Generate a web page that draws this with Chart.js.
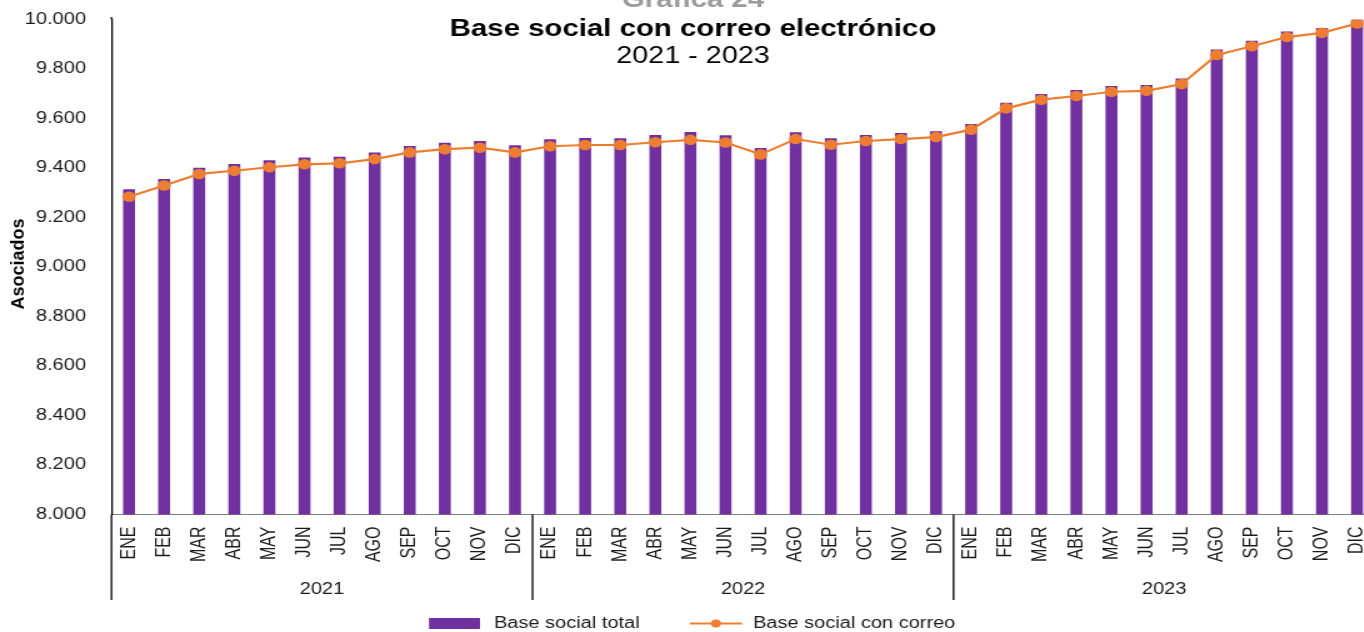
<!DOCTYPE html>
<html>
<head>
<meta charset="utf-8">
<script src="https://cdn.jsdelivr.net/npm/chart.js@4/dist/chart.umd.min.js"></script>
<style>
  html, body { margin: 0; padding: 0; background: #ffffff; overflow: hidden; width: 1364px; height: 632px; }
  #wrap { position: absolute; left: 0; top: 0; width: 1105px; height: 632px; transform: scaleX(1.25); transform-origin: 0 0; }
  canvas { display: block; }
</style>
</head>
<body>
<div id="wrap"><canvas id="c" width="1105" height="632"></canvas></div>
<script>
// ---- data ----
const months = ['ENE','FEB','MAR','ABR','MAY','JUN','JUL','AGO','SEP','OCT','NOV','DIC'];
const years = ['2021','2022','2023'];
const categories = years.flatMap(() => months);

const baseSocialTotal = [
  9314, 9356, 9401, 9416, 9431, 9442, 9445, 9463, 9489, 9502, 9509, 9492,
  9516, 9521, 9520, 9533, 9545, 9532, 9481, 9544, 9520, 9533, 9541, 9548,
  9578, 9664, 9699, 9715, 9731, 9735, 9762, 9879, 9914, 9952, 9966, 10000
];
const baseSocialCorreo = [
  9284, 9329, 9376, 9389, 9403, 9415, 9419, 9436, 9463, 9476, 9482, 9463,
  9488, 9493, 9493, 9504, 9514, 9503, 9455, 9517, 9494, 9509, 9517, 9525,
  9555, 9641, 9676, 9691, 9708, 9712, 9739, 9857, 9892, 9929, 9946, 9984
];
const yTickLabels = ['8.000','8.200','8.400','8.600','8.800','9.000','9.200','9.400','9.600','9.800','10.000'];
const seriesNames = ['Base social total', 'Base social con correo'];
const titleLines = ['Gráfica 24', 'Base social con correo electrónico', '2021 - 2023'];
const yAxisTitle = 'Asociados';

const PURPLE = '#7030A0';
const ORANGE = '#ED7D31';
const FONT = "'Liberation Sans', Arial, Helvetica, sans-serif";

const extras = {
  id: 'extras',
  afterDraw(chart) {
    const ctx = chart.ctx;
    const xs = chart.scales.x;
    const area = chart.chartArea;
    ctx.save();
    // titles
    const cx = 554.4;
    ctx.textAlign = 'center';
    ctx.textBaseline = 'alphabetic';
    ctx.fillStyle = '#9a9a9a';
    ctx.font = 'bold 23.5px ' + FONT;
    ctx.fillText(titleLines[0], cx, 7);
    ctx.fillStyle = '#000000';
    ctx.fillText(titleLines[1], cx, 36);
    ctx.font = '23px ' + FONT;
    ctx.fillText(titleLines[2], cx, 63.3);

    // y-axis title
    ctx.save();
    ctx.translate(14.6, 264);
    ctx.rotate(-Math.PI / 2);
    ctx.scale(1, 0.8);
    ctx.font = 'bold 18px ' + FONT;
    ctx.textAlign = 'center';
    ctx.textBaseline = 'middle';
    ctx.fillStyle = '#000000';
    ctx.fillText(yAxisTitle, 0, 0);
    ctx.restore();

    // y-axis line slightly above the top tick
    ctx.strokeStyle = '#000000';
    ctx.lineWidth = 1.3;
    ctx.beginPath();
    ctx.moveTo(area.left, area.top - 2.5);
    ctx.lineTo(area.left, area.top);
    ctx.stroke();

    // year group separators and labels
    const half = (xs.getPixelForValue(1) - xs.getPixelForValue(0)) / 2;
    for (let i = 0; i <= years.length; i++) {
      const xb = xs.getPixelForValue(i * 12) - half;
      ctx.beginPath();
      ctx.moveTo(xb, area.bottom);
      ctx.lineTo(xb, 600);
      ctx.stroke();
    }
    ctx.font = '16px ' + FONT;
    ctx.fillStyle = '#1a1a1a';
    ctx.textAlign = 'center';
    ctx.textBaseline = 'alphabetic';
    years.forEach((y, i) => {
      const xc = (xs.getPixelForValue(i * 12) + xs.getPixelForValue(i * 12 + 11)) / 2;
      ctx.fillText(y, xc, 594);
    });

    // legend
    const ly = 623.5;
    ctx.fillStyle = PURPLE;
    ctx.fillRect(343.2, 618, 40.8, 11);
    ctx.strokeStyle = ORANGE;
    ctx.lineWidth = 2;
    ctx.beginPath();
    ctx.moveTo(552, ly);
    ctx.lineTo(593.6, ly);
    ctx.stroke();
    ctx.fillStyle = ORANGE;
    ctx.beginPath();
    ctx.arc(572.8, ly, 4, 0, Math.PI * 2);
    ctx.fill();
    ctx.fillStyle = '#1a1a1a';
    ctx.font = '16px ' + FONT;
    ctx.textAlign = 'left';
    ctx.textBaseline = 'middle';
    ctx.fillText(seriesNames[0], 395.2, ly);
    ctx.fillText(seriesNames[1], 602.4, ly);
    ctx.restore();
  }
};

new Chart(document.getElementById('c'), {
  data: {
    labels: categories,
    datasets: [
      {
        type: 'bar',
        label: seriesNames[0],
        data: baseSocialTotal,
        backgroundColor: PURPLE,
        borderWidth: 0,
        barPercentage: 0.34,
        categoryPercentage: 1,
        order: 2
      },
      {
        type: 'line',
        label: seriesNames[1],
        data: baseSocialCorreo,
        borderColor: ORANGE,
        backgroundColor: ORANGE,
        borderWidth: 2.2,
        pointRadius: 5.3,
        pointBackgroundColor: ORANGE,
        pointBorderWidth: 0,
        tension: 0,
        order: 1
      }
    ]
  },
  options: {
    responsive: false,
    animation: false,
    devicePixelRatio: 1,
    events: [],
    layout: { padding: { top: 19.5, right: 1, left: 0, bottom: 0 } },
    plugins: {
      legend: { display: false },
      title: { display: false },
      tooltip: { enabled: false }
    },
    scales: {
      x: {
        type: 'category',
        offset: true,
        grid: { display: false, drawTicks: false },
        border: { display: true, color: '#7f7f7f', width: 1 },
        ticks: {
          autoSkip: false,
          minRotation: 90,
          maxRotation: 90,
          padding: 12,
          color: '#1a1a1a',
          font: { family: FONT, size: 16 }
        },
        afterFit(scale) {
          scale.height = 117.5;
          scale.paddingLeft = 0;
          scale.paddingRight = 0;
        }
      },
      y: {
        min: 8000,
        max: 10000,
        grid: { display: false, drawTicks: false },
        border: { display: true, color: '#000000', width: 1.3 },
        ticks: {
          stepSize: 200,
          padding: 20.4,
          color: '#1a1a1a',
          font: { family: FONT, size: 16 },
          callback: (v) => yTickLabels[Math.round((v - 8000) / 200)]
        },
        afterFit(scale) {
          scale.width = 89.2;
          scale.paddingTop = 0;
          scale.paddingBottom = 0;
        }
      }
    }
  },
  plugins: [extras]
});
</script>
</body>
</html>
